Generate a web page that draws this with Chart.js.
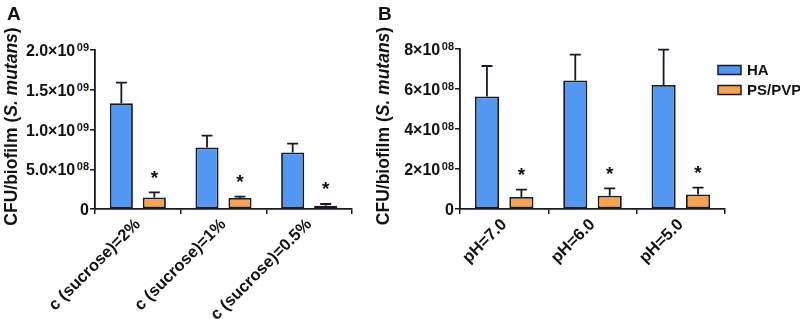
<!DOCTYPE html>
<html>
<head>
<meta charset="utf-8">
<script src="https://cdn.jsdelivr.net/npm/chart.js@4"></script>
<style>
  body { margin: 0; background: #fff; }
  #wrap { position: relative; width: 800px; height: 319px; overflow: hidden; }
  .panel { position: absolute; top: 0; height: 319px; }
</style>
</head>
<body>
<div id="wrap">
  <div class="panel" style="left:0;width:370px"><canvas id="chart-a"></canvas></div>
  <div class="panel" style="left:370px;width:430px"><canvas id="chart-b"></canvas></div>
</div>
<script>
// series names (legend)
const seriesNames = ["HA", "PS/PVP"];

// panel A: sucrose concentration
const categoriesA = ["c (sucrose)=2%", "c (sucrose)=1%", "c (sucrose)=0.5%"];
const haA = [1.33e9, 0.775e9, 0.71e9];
const haErrA = [0.26e9, 0.147e9, 0.113e9];
const psA = [0.146e9, 0.138e9, 0.041e9];
const psErrA = [0.063e9, 0.017e9, 0.022e9];
const marksA = ["*", "*", "*"];
const yTicksA = [["0", ""], ["5.0×10", "08"], ["1.0×10", "09"], ["1.5×10", "09"], ["2.0×10", "09"]];

// panel B: pH
const categoriesB = ["pH=7.0", "pH=6.0", "pH=5.0"];
const haB = [5.63e8, 6.43e8, 6.2e8];
const haErrB = [1.52e8, 1.29e8, 1.77e8];
const psB = [0.6e8, 0.665e8, 0.73e8];
const psErrB = [0.37e8, 0.37e8, 0.34e8];
const marksB = ["*", "*", "*"];
const yTicksB = [["0", ""], ["2×10", "08"], ["4×10", "08"], ["6×10", "08"], ["8×10", "08"]];

const blue = "#5298f2";
const orange = "#f6a34f";
const edge = "#151a24";
const fontFam = "'Liberation Sans', Arial, sans-serif";

// error bars (upward only) + significance marks
const errorBarPlugin = {
    id: "errorBars",
    afterDatasetsDraw(chart) {
        const ctx = chart.ctx;
        const yScale = chart.scales.y;
        const errs = chart.options.plugins.errorBars.errors;
        const marks = chart.options.plugins.errorBars.marks;
        ctx.save();
        ctx.strokeStyle = edge;
        ctx.lineWidth = 1.8;
        chart.data.datasets.forEach((ds, i) => {
            const meta = chart.getDatasetMeta(i);
            meta.data.forEach((bar, j) => {
                const top = yScale.getPixelForValue(ds.data[j] + errs[i][j]);
                ctx.beginPath();
                ctx.moveTo(bar.x, bar.y);
                ctx.lineTo(bar.x, top);
                ctx.moveTo(bar.x - 5.5, top);
                ctx.lineTo(bar.x + 5.5, top);
                ctx.stroke();
                if (i === 1 && marks[j]) {
                    ctx.fillStyle = "#111";
                    ctx.font = "bold 19px " + fontFam;
                    ctx.textAlign = "center";
                    ctx.textBaseline = "middle";
                    ctx.fillText(marks[j], bar.x, top - 14);
                }
            });
        });
        ctx.restore();
    },
};

// y tick labels with superscript exponent, y title with italic species, panel letter, legend
const decorPlugin = {
    id: "decor",
    afterDraw(chart) {
        const o = chart.options.plugins.decor;
        const ctx = chart.ctx;
        const yScale = chart.scales.y;
        ctx.save();
        ctx.fillStyle = "#111";
        ctx.textBaseline = "alphabetic";

        // tick labels
        yScale.ticks.forEach((t, k) => {
            const y = yScale.getPixelForValue(t.value);
            const [base, sup] = o.tickLabels[k];
            let right = yScale.right - 6;
            ctx.textAlign = "right";
            if (sup) {
                ctx.font = "bold 11px " + fontFam;
                ctx.fillText(sup, right, y + 1);
                right -= ctx.measureText(sup).width + 1.5;
            }
            ctx.font = "bold 16px " + fontFam;
            ctx.fillText(base, right, y + 6);
        });

        // y title
        const parts = [["CFU/biofilm (", "bold"], ["S. mutans", "italic bold"], [")", "bold"]];
        ctx.save();
        ctx.translate(o.titleX, (chart.chartArea.top + chart.chartArea.bottom) / 2 - 3);
        ctx.rotate(-Math.PI / 2);
        let total = 0;
        parts.forEach(p => { ctx.font = p[1] + " 17.5px " + fontFam; total += ctx.measureText(p[0]).width; });
        let x = -total / 2;
        ctx.textAlign = "left";
        ctx.textBaseline = "middle";
        parts.forEach(p => {
            ctx.font = p[1] + " 17.5px " + fontFam;
            ctx.fillText(p[0], x, 0);
            x += ctx.measureText(p[0]).width;
        });
        ctx.restore();

        // panel letter
        ctx.font = "bold 19px " + fontFam;
        ctx.textAlign = "left";
        ctx.textBaseline = "top";
        ctx.fillText(o.letter, o.letterX, 5);

        // legend
        if (o.legend) {
            chart.data.datasets.forEach((ds, i) => {
                const ly = o.legend.y + i * 20;
                ctx.fillStyle = ds.backgroundColor;
                ctx.fillRect(o.legend.x, ly - 4.5, 23, 9);
                ctx.strokeStyle = edge;
                ctx.lineWidth = 1.5;
                ctx.strokeRect(o.legend.x, ly - 4.5, 23, 9);
                ctx.fillStyle = "#111";
                ctx.font = "bold 15px " + fontFam;
                ctx.textBaseline = "middle";
                ctx.fillText(ds.label, o.legend.x + 29, ly + 1);
            });
        }
        ctx.restore();
    },
};

function makeChart(canvasId, opts) {
    const canvas = document.getElementById(canvasId);
    return new Chart(canvas, {
        type: "bar",
        data: {
            labels: opts.categories,
            datasets: [
                {
                    label: seriesNames[0],
                    data: opts.ha,
                    backgroundColor: blue,
                    borderColor: edge,
                    borderWidth: 1.8,
                    borderSkipped: false,
                    categoryPercentage: opts.cp,
                    barPercentage: 0.7,
                },
                {
                    label: seriesNames[1],
                    data: opts.ps,
                    backgroundColor: orange,
                    borderColor: edge,
                    borderWidth: 1.8,
                    borderSkipped: false,
                    categoryPercentage: opts.cp,
                    barPercentage: 0.7,
                },
            ],
        },
        options: {
            responsive: true,
            maintainAspectRatio: false,
            animation: false,
            layout: {
                padding: { top: opts.top, left: 0, right: opts.right, bottom: 0 },
            },
            scales: {
                x: {
                    grid: {
                        drawOnChartArea: false,
                        color: edge,
                        lineWidth: 1.5,
                        tickLength: 5,
                    },
                    border: { display: true, color: edge, width: 1.8 },
                    ticks: {
                        color: "#111",
                        autoSkip: false,
                        minRotation: 45,
                        maxRotation: 45,
                        padding: 1,
                        font: { family: fontFam, size: 16.5, weight: "bold" },
                    },
                    afterFit(scale) {
                        scale.height = 319 - opts.bottom;
                    },
                },
                y: {
                    min: 0,
                    max: opts.max,
                    ticks: {
                        stepSize: opts.step,
                        display: false,
                    },
                    grid: {
                        drawOnChartArea: false,
                        color: edge,
                        lineWidth: 1.5,
                        tickLength: 5,
                    },
                    border: { display: true, color: edge, width: 1.8 },
                    afterFit(scale) {
                        scale.width = opts.axisX;
                    },
                },
            },
            plugins: {
                legend: { display: false },
                tooltip: { enabled: false },
                errorBars: { errors: [opts.haErr, opts.psErr], marks: opts.marks },
                decor: {
                    tickLabels: opts.yTicks,
                    titleX: opts.titleX,
                    letter: opts.letter,
                    letterX: opts.letterX,
                    legend: opts.legend,
                },
            },
        },
        plugins: [errorBarPlugin, decorPlugin],
    });
}

makeChart("chart-a", {
    categories: categoriesA, ha: haA, haErr: haErrA, ps: psA, psErr: psErrA, marks: marksA,
    yTicks: yTicksA, max: 2e9, step: 5e8,
    top: 50, bottom: 209, right: 18, axisX: 95, cp: 0.77,
    titleX: 12, letter: "A", letterX: 7, legend: null,
});

makeChart("chart-b", {
    categories: categoriesB, ha: haB, haErr: haErrB, ps: psB, psErr: psErrB, marks: marksB,
    yTicks: yTicksB, max: 8e8, step: 2e8,
    top: 49, bottom: 209, right: 75, axisX: 90, cp: 0.78,
    titleX: 14, letter: "B", letterX: 8, legend: { x: 348, y: 70 },
});
</script>
</body>
</html>
